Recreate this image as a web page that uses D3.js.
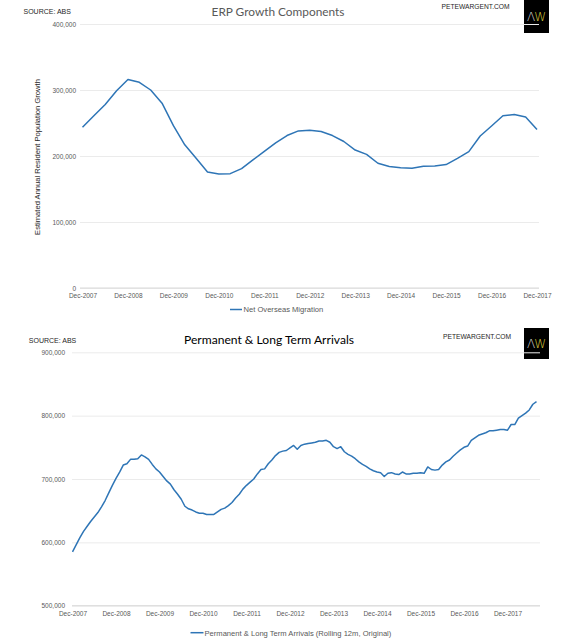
<!DOCTYPE html>
<html>
<head>
<meta charset="utf-8">
<script src="https://cdn.jsdelivr.net/npm/d3@7/dist/d3.min.js"></script>
<style>
  html, body { margin: 0; padding: 0; background: #fff; }
  svg { display: block; }
  text { font-family: Arial, "Liberation Sans", sans-serif; }
</style>
</head>
<body>
<svg id="chart" width="565" height="640"></svg>
<script>
// ---------- DATA ----------
// Top chart: Net Overseas Migration, quarterly, Dec-2007 .. Dec-2017
const nomValues = [
  243500, 261000, 278000, 299000, 316000, 311600, 300000, 280000, 246000, 217000,
  196500, 175800, 172700, 173200, 180800, 194000, 207000, 220000, 231000, 238000,
  239000, 237000, 231000, 222000, 209000, 202500, 189000, 184000, 182300, 181300,
  184300, 184800, 187000, 196500, 206600, 230300, 245500, 261000, 263000, 259000,
  240000
];
const topYTicks = [0, 100000, 200000, 300000, 400000];
const topXTickLabels = ["Dec-2007","Dec-2008","Dec-2009","Dec-2010","Dec-2011","Dec-2012",
                        "Dec-2013","Dec-2014","Dec-2015","Dec-2016","Dec-2017"];

// Bottom chart: Permanent & Long Term Arrivals (rolling 12m), monthly, Dec-2007 .. Aug-2018
const arrivalValues = [
  585000, 596000, 607000, 617000, 625000, 633000, 640000, 647000, 656000, 666000,
  678000, 690000, 701000, 711000, 722000, 724000, 731000, 731000, 732000, 738000,
  735000, 731000, 723000, 716000, 711000, 704000, 697000, 692000, 683000, 676000,
  668000, 657000, 653000, 651000, 648000, 646000, 646000, 644000, 644000, 644000,
  648000, 652000, 654000, 658000, 663000, 670000, 676000, 684000, 690000, 695000,
  700000, 708000, 715000, 716000, 724000, 730000, 737000, 742000, 744000, 745000,
  749000, 753000, 747000, 753000, 755000, 756000, 757000, 758000, 760000, 760000,
  761000, 758000, 751000, 748000, 751000, 743000, 739000, 736000, 732000, 727000,
  723000, 720000, 716000, 713000, 711000, 710000, 704000, 709000, 710000, 708000,
  707000, 711000, 708000, 708000, 709000, 709000, 710000, 709000, 719000, 715000,
  714000, 715000, 722000, 727000, 730000, 736000, 741000, 746000, 750000, 752000,
  761000, 765000, 769000, 771000, 773000, 776000, 776000, 777000, 778000, 778000,
  777000, 786000, 786000, 796000, 800000, 804000, 809000, 818000, 822000
];
const botYTicks = [500000, 600000, 700000, 800000, 900000];
const botXTickLabels = ["Dec-2007","Dec-2008","Dec-2009","Dec-2010","Dec-2011","Dec-2012",
                        "Dec-2013","Dec-2014","Dec-2015","Dec-2016","Dec-2017"];

// categories
const topQuarters = d3.range(nomValues.length);      // quarter index from Dec-2007
const botMonths = d3.range(arrivalValues.length);    // month index from Dec-2007

// ---------- DRAW ----------
const svg = d3.select("#chart");
const BLUE = "#2E75B6";
const GRID = "#ebebeb";
const LABEL = "#595959";
const fmt = d3.format(",");

function logo(x, y, w, h) {
  svg.append("rect").attr("x", x).attr("y", y).attr("width", w).attr("height", h).attr("fill", "#000");
  const t = svg.append("text").attr("x", x + w / 2).attr("y", y + h / 2 + 4.5)
    .attr("text-anchor", "middle").style("font-family", "'DejaVu Sans', sans-serif")
    .style("font-size", "12px").style("font-weight", "300");
  t.append("tspan").attr("fill", "#d9d9d9").text("\u039B");
  t.append("tspan").attr("fill", "#dccb3c").attr("dx", -1).text("W");
}

function header(yTitle, title, titleColor, srcX, srcY, titleX, titleWidth) {
  svg.append("text").attr("x", srcX).attr("y", srcY).style("font-size", "7px").attr("fill", "#262626").text("SOURCE: ABS");
  const t = svg.append("text").attr("x", titleX).attr("y", yTitle).attr("text-anchor", "middle")
    .style("font-family", "Lato, 'Open Sans', sans-serif").style("font-size", "14px")
    .attr("fill", titleColor).text(title);
  const w = t.node().getComputedTextLength();
  t.style("font-size", (14 * titleWidth / w).toFixed(2) + "px");
}

// ===== Top chart =====
const xTop = d3.scalePoint().domain(topQuarters).range([82.5, 537]);
const yTop = d3.scaleLinear().domain([0, 400000]).range([288, 24]);

header(15.5, "ERP Growth Components", "#595959", 23.5, 13.5, 278, 133);
svg.append("text").attr("x", 441.5).attr("y", 9.3).style("font-size", "6.7px").attr("fill", "#262626").text("PETEWARGENT.COM");
logo(524, 0, 25, 33);

const gTop = svg.append("g");
gTop.append("g").attr("transform", "translate(80,0)")
  .call(d3.axisLeft(yTop).tickValues(topYTicks).tickSize(-459).tickFormat(d => fmt(d)))
  .call(g => g.select(".domain").remove())
  .call(g => g.selectAll(".tick line").attr("stroke", GRID))
  .call(g => g.selectAll(".tick text").attr("x", -4).attr("fill", LABEL)
    .style("font-size", "6.5px").style("font-family", "Arial, 'Liberation Sans', sans-serif"));
gTop.append("line").attr("x1", 80).attr("x2", 539).attr("y1", yTop(0)).attr("y2", yTop(0)).attr("stroke", "#d9d9d9");

gTop.append("g").attr("transform", `translate(0,${yTop(0)})`)
  .call(d3.axisBottom(xTop).tickValues(topQuarters.filter(q => q % 4 === 0)).tickSize(0)
    .tickFormat(q => topXTickLabels[q / 4]))
  .call(g => g.select(".domain").remove())
  .call(g => g.selectAll(".tick text").attr("y", 5.5).attr("fill", LABEL)
    .style("font-size", "6.5px").style("font-family", "Arial, 'Liberation Sans', sans-serif"));

gTop.append("path").datum(nomValues)
  .attr("fill", "none").attr("stroke", BLUE).attr("stroke-width", 1.5).attr("stroke-linejoin", "round")
  .attr("d", d3.line().x((d, i) => xTop(topQuarters[i])).y(d => yTop(d)));

svg.append("text").attr("transform", "translate(39.5,157) rotate(-90)").attr("text-anchor", "middle")
  .style("font-size", "7.6px").attr("fill", "#262626").text("Estimated Annual Resident Population Growth");

svg.append("line").attr("x1", 230).attr("x2", 242).attr("y1", 309.5).attr("y2", 309.5).attr("stroke", BLUE).attr("stroke-width", 1.5);
svg.append("text").attr("x", 243.5).attr("y", 312.2).style("font-size", "7.6px").attr("fill", LABEL).text("Net Overseas Migration");

// ===== Bottom chart =====
const xBot = d3.scalePoint().domain(botMonths).range([72.5, 536.5]);
const yBot = d3.scaleLinear().domain([500000, 900000]).range([605.7, 352.3]);

header(343.5, "Permanent & Long Term Arrivals", "#000", 28.8, 342.5, 269, 170);
svg.append("text").attr("x", 443).attr("y", 338.5).style("font-size", "6.7px").attr("fill", "#262626").text("PETEWARGENT.COM");
logo(524, 328, 25, 31);

const gBot = svg.append("g");
gBot.append("g").attr("transform", "translate(72,0)")
  .call(d3.axisLeft(yBot).tickValues(botYTicks).tickSize(-468).tickFormat(d => fmt(d)))
  .call(g => g.select(".domain").remove())
  .call(g => g.selectAll(".tick line").attr("stroke", GRID))
  .call(g => g.selectAll(".tick text").attr("x", -7).attr("fill", LABEL)
    .style("font-size", "6.5px").style("font-family", "Arial, 'Liberation Sans', sans-serif"));
gBot.append("line").attr("x1", 72).attr("x2", 540).attr("y1", yBot(500000)).attr("y2", yBot(500000)).attr("stroke", "#d9d9d9");

gBot.append("g").attr("transform", `translate(0,${yBot(500000)})`)
  .call(d3.axisBottom(xBot).tickValues(botMonths.filter(m => m % 12 === 0)).tickSize(0)
    .tickFormat(m => botXTickLabels[m / 12]))
  .call(g => g.select(".domain").remove())
  .call(g => g.selectAll(".tick text").attr("y", 5.5).attr("fill", LABEL)
    .style("font-size", "6.5px").style("font-family", "Arial, 'Liberation Sans', sans-serif"));

gBot.append("path").datum(arrivalValues)
  .attr("fill", "none").attr("stroke", BLUE).attr("stroke-width", 1.5).attr("stroke-linejoin", "round")
  .attr("d", d3.line().x((d, i) => xBot(botMonths[i])).y(d => yBot(d)));

svg.append("line").attr("x1", 190.5).attr("x2", 203.5).attr("y1", 632.7).attr("y2", 632.7).attr("stroke", BLUE).attr("stroke-width", 1.5);
svg.append("text").attr("x", 204.5).attr("y", 635.5).style("font-size", "7.6px").attr("fill", LABEL)
  .text("Permanent & Long Term Arrivals (Rolling 12m, Original)");
</script>
</body>
</html>
